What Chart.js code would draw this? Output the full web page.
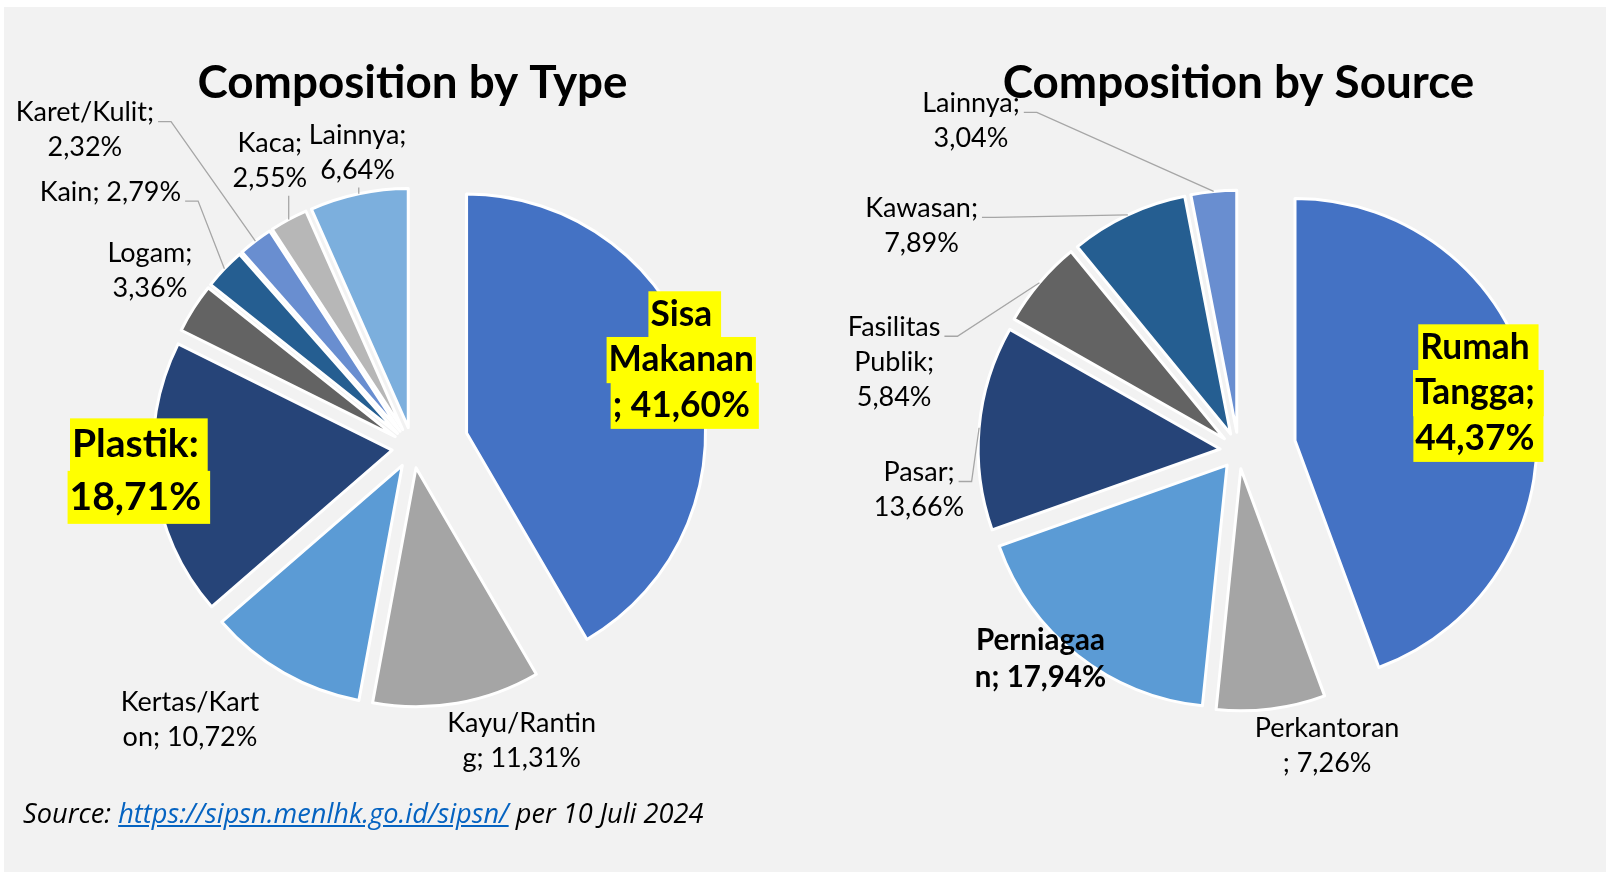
<!DOCTYPE html>
<html>
<head>
<meta charset="utf-8">
<title>Komposisi Sampah</title>
<script src="https://cdn.jsdelivr.net/npm/chart.js@4.4.0/dist/chart.umd.min.js"></script>
<style>
  html, body { margin: 0; padding: 0; background: #fff; overflow: hidden; }
  body { width: 1606px; height: 872px; position: relative; }
  .panel { position: absolute; left: 4px; top: 7px; right: 0; bottom: 0; background: #f2f2f2; }
  canvas { position: absolute; top: 0; }
  #typeChart { left: 0; }
  #sourceChart { left: 830px; }
  .source {
    position: absolute; left: 23px; top: 794px;
    font: italic 27.2px "Open Sans", Lato, sans-serif; color: #000; white-space: nowrap;
  }
  .source a { color: #0563c1; text-decoration: underline; }
</style>
</head>
<body>
<div class="panel"></div>
<canvas id="typeChart" width="825" height="872"></canvas>
<canvas id="sourceChart" width="817" height="872"></canvas>
<div class="source">Source: <a>https://sipsn.menlhk.go.id/sipsn/</a> per 10 Juli 2024</div>

<script>
// Komposisi sampah per jenis
const typeLabels = ['Sisa Makanan', 'Kayu/Ranting', 'Kertas/Karton', 'Plastik', 'Logam', 'Kain', 'Karet/Kulit', 'Kaca', 'Lainnya'];
const typeShares = [41.60, 11.31, 10.72, 18.71, 3.36, 2.79, 2.32, 2.55, 6.64];
const typeColors = ['#4472c4', '#a5a5a5', '#5b9bd5', '#264478', '#636363', '#255e91', '#698ed0', '#b7b7b7', '#7cafdd'];

// Komposisi sampah per sumber
const sourceLabels = ['Rumah Tangga', 'Perkantoran', 'Perniagaan', 'Pasar', 'Fasilitas Publik', 'Kawasan', 'Lainnya'];
const sourceShares = [44.37, 7.26, 17.94, 13.66, 5.84, 7.89, 3.04];
const sourceColors = ['#4472c4', '#a5a5a5', '#5b9bd5', '#264478', '#636363', '#255e91', '#698ed0'];

const FONT = 'Lato, "Open Sans", sans-serif';
const TITLE_SIZE = 45.8;
const TITLE_MID = 83;      // garis tengah judul
const CANVAS_H = 872;

// gaya teks label
const LABEL_STYLES = {
  plain: { weight: '400', size: 27, lh: 35 },
  bold:  { weight: '700', size: 29.5, lh: 37 },
  hi:    { weight: '700', size: 35.3, lh: 45.7, highlight: '#ffff00' },
  hiBig: { weight: '700', size: 39, lh: 52.5, highlight: '#ffff00' }
};

// letak label: r = jarak dari pusat irisan (kali radius), da = geser sudut (derajat)
// breaks = posisi potong baris dalam teks label
const typeLabelLayout = [
  { r: 0.949, da: -3.7,  breaks: [4, 12], kind: 'hi' },
  { r: 1.223, da: -11.3, breaks: [11] },
  { r: 1.386, da: 10.1,  breaks: [11] },
  { r: 1.078, da: 2.65,  breaks: [8], kind: 'hiBig', sep: ':' },
  { r: 1.239, da: 1.6,   breaks: [6] },
  { r: 1.57,  da: -3.5,  breaks: [], leader: 'side' },
  { r: 1.824, da: -9.05, breaks: [12], leader: 'side' },
  { r: 1.255, da: 2.2,   breaks: [5], leader: 'bottom' },
  { r: 1.17,  da: 1.5,   breaks: [8], leader: 'bottom' }
];
const sourceLabelLayout = [
  { r: 0.769, da: -4.7,  breaks: [5, 13], kind: 'hi' },
  { r: 1.199, da: -10.1, breaks: [11] },
  { r: 1.111, da: 5.8,   breaks: [9], kind: 'bold' },
  { r: 1.256, da: -12.8, breaks: [6], leader: 'side' },
  { r: 1.401, da: -27.1, breaks: [9, 17], leader: 'side' },
  { r: 1.54,  da: -30.9, breaks: [8], leader: 'side' },
  { r: 1.692, da: -35.0, breaks: [8], leader: 'side' }
];

const pct = v => v.toFixed(2).replace('.', ',') + '%';

// potong teks pada indeks tertentu; tandai baris yang diakhiri spasi
const splitAt = (text, breaks) => {
  const out = [];
  let from = 0;
  breaks.forEach(b => {
    out.push({ text: text.slice(from, b).trim(), gap: text[b] === ' ' || text[b - 1] === ' ' });
    from = b;
  });
  out.push({ text: text.slice(from).trim(), gap: true });
  return out;
};

// geser irisan keluar dari pusat (irisan pertama lebih jauh)
const explode = {
  id: 'explode',
  afterDatasetUpdate(chart, args, opts) {
    args.meta.data.forEach((arc, i) => {
      const d = i === 0 ? opts.first : opts.rest;
      const mid = (arc.startAngle + arc.endAngle) / 2;
      arc.x += Math.cos(mid) * d;
      arc.y += Math.sin(mid) * d;
    });
  }
};

// label data + garis penunjuk
const sliceLabels = {
  id: 'sliceLabels',
  afterDatasetsDraw(chart, args, opts) {
    const { ctx } = chart;
    const meta = chart.getDatasetMeta(0);
    const values = chart.data.datasets[0].data;
    ctx.save();
    meta.data.forEach((arc, i) => {
      const item = opts.items[i];
      const st = LABEL_STYLES[item.kind || 'plain'];
      const text = `${chart.data.labels[i]}${item.sep || ';'} ${pct(values[i])}`;
      const lines = splitAt(text, item.breaks);
      const mid = (arc.startAngle + arc.endAngle) / 2;
      const a = mid + item.da * Math.PI / 180;
      const cx = arc.x + Math.cos(a) * arc.outerRadius * item.r;
      const cy = arc.y + Math.sin(a) * arc.outerRadius * item.r;
      const top = cy - lines.length * st.lh / 2;

      ctx.font = `${st.weight} ${st.size}px ${FONT}`;
      ctx.textAlign = 'center';
      ctx.textBaseline = 'middle';
      const widths = lines.map(l => ctx.measureText(l.text).width);

      if (st.highlight) {
        ctx.fillStyle = st.highlight;
        lines.forEach((l, k) => {
          const right = l.gap ? 9 : 2;
          ctx.fillRect(cx - widths[k] / 2 - 2, top + k * st.lh, widths[k] + 2 + right, st.lh + 0.5);
        });
      }
      ctx.fillStyle = '#000';
      lines.forEach((l, k) => ctx.fillText(l.text, cx, top + (k + 0.5) * st.lh));

      if (item.leader) {
        const ox = arc.x + Math.cos(mid) * arc.outerRadius;
        const oy = arc.y + Math.sin(mid) * arc.outerRadius;
        ctx.strokeStyle = '#a6a6a6';
        ctx.lineWidth = 1.3;
        ctx.beginPath();
        if (item.leader === 'side') {
          const sx = cx + widths[0] / 2 + 4;
          const sy = top + st.lh / 2 + 9;
          ctx.moveTo(sx, sy);
          ctx.lineTo(sx + 13, sy);
          ctx.lineTo(ox, oy);
        } else {
          ctx.moveTo(ox, top + lines.length * st.lh);
          ctx.lineTo(ox, oy);
        }
        ctx.stroke();
      }
    });
    ctx.restore();
  }
};

const pieConfig = (labels, values, colors, opts) => {
  // area grafik diatur agar pusat pie jatuh di opts.centerY
  const areaTop = TITLE_MID + TITLE_SIZE * 0.6;
  const padBottom = CANVAS_H - (2 * opts.centerY - areaTop);
  return {
    type: 'pie',
    data: {
      labels,
      datasets: [{
        data: values,
        backgroundColor: colors,
        borderColor: '#ffffff',
        borderWidth: 3,
        borderJoinStyle: 'round',
        clip: false
      }]
    },
    options: {
      responsive: false,
      animation: false,
      events: [],
      radius: opts.radius,
      layout: { padding: { top: 0, left: 0, right: 0, bottom: padBottom } },
      plugins: {
        legend: { display: false },
        tooltip: { enabled: false },
        title: {
          display: true,
          text: opts.title,
          color: '#000',
          font: { family: FONT, size: TITLE_SIZE, weight: 'bold', lineHeight: 1.2 },
          padding: { top: TITLE_MID - TITLE_SIZE * 0.6, bottom: 0 }
        },
        explode: opts.explode,
        sliceLabels: { items: opts.layout }
      }
    },
    plugins: [explode, sliceLabels]
  };
};

const build = () => {
  new Chart(document.getElementById('typeChart'), pieConfig(typeLabels, typeShares, typeColors, {
    title: 'Composition by Type',
    radius: 239,
    centerY: 447.6,
    explode: { first: 56, rest: 20.5 },
    layout: typeLabelLayout
  }));

  new Chart(document.getElementById('sourceChart'), pieConfig(sourceLabels, sourceShares, sourceColors, {
    title: 'Composition by Source',
    radius: 242,
    centerY: 450.6,
    explode: { first: 57.4, rest: 18.4 },
    layout: sourceLabelLayout
  }));
};

Promise.all(['400 27px Lato', '700 35px Lato', '700 46px Lato', 'italic 400 27px "Open Sans"']
  .map(f => document.fonts.load(f))).then(build, build);
</script>
</body>
</html>
